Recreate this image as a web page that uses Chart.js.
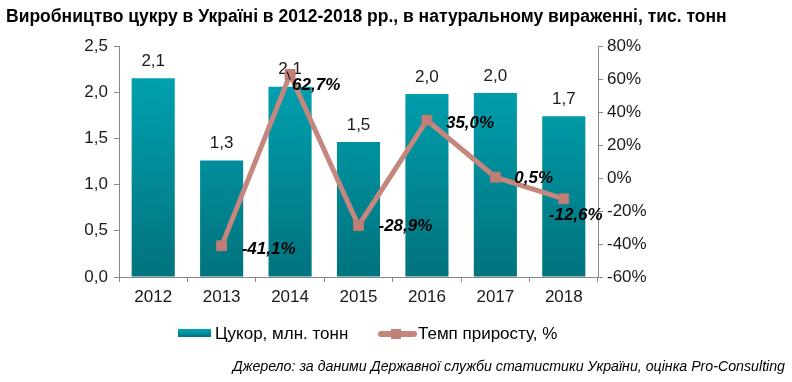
<!DOCTYPE html>
<html><head><meta charset="utf-8">
<script src="https://cdn.jsdelivr.net/npm/chart.js@4"></script>
<style>html,body{margin:0;padding:0;background:#fff;}canvas{display:block}</style>
</head><body>
<canvas id="c" width="792" height="382"></canvas>
<script>
const titleText = "Виробництво цукру в Україні в 2012-2018 рр., в натуральному вираженні, тис. тонн";
const sourceText = "Джерело: за даними Державної служби статистики України, оцінка Pro-Consulting";
const categories = ["2012","2013","2014","2015","2016","2017","2018"];
const sugarValues = [2.15, 1.26, 2.06, 1.46, 1.98, 1.99, 1.74];
const sugarLabels = ["2,1","1,3","2,1","1,5","2,0","2,0","1,7"];
const growthValues = [null, -41.1, 62.7, -28.9, 35.0, 0.5, -12.6];
const growthLabels = ["", "-41,1%", "62,7%", "-28,9%", "35,0%", "0,5%", "-12,6%"];
const seriesNames = ["Цукор, млн. тонн", "Темп приросту, %"];
const leftTicks = [0, 0.5, 1, 1.5, 2, 2.5];
const rightTicks = [-60, -40, -20, 0, 20, 40, 60, 80];

const FONT = "'Liberation Sans', Arial, sans-serif";
const lineColor = '#c5867e';
const markerColor = '#c07f77';

function barGradient(ctx) {
  const ca = ctx.chart.chartArea;
  if (!ca) return '#0096a3';
  const g = ctx.chart.ctx.createLinearGradient(0, ca.top, 0, ca.bottom);
  g.addColorStop(0, '#00a8b8');
  g.addColorStop(1, '#01737d');
  return g;
}

// label offsets (dx, dy, align) for growth labels
const growthLabelPos = [null, [20,3,'left'], [2,11,'left'], [20,1,'left'], [19,3,'left'], [19,1,'left'], [-15,17,'left']];

const extras = {
  id: 'extras',
  afterDatasetDraw(chart, args) {
    if (args.index !== 0) return;
    const ctx = chart.ctx;
    ctx.save();
    const barMeta = chart.getDatasetMeta(0);
    ctx.font = "17px " + FONT;
    ctx.fillStyle = '#1a1a1a';
    ctx.textAlign = 'center';
    ctx.textBaseline = 'middle';
    barMeta.data.forEach((el, i) => {
      ctx.fillText(sugarLabels[i], el.x, el.y - 17);
    });
    ctx.restore();
  },
  afterDatasetsDraw(chart) {
    const ctx = chart.ctx;
    ctx.save();
    ctx.textBaseline = 'middle';
    const lineMeta = chart.getDatasetMeta(1);
    ctx.font = "italic bold 17px " + FONT;
    ctx.fillStyle = '#000';
    lineMeta.data.forEach((el, i) => {
      if (growthValues[i] === null) return;
      const p = growthLabelPos[i];
      ctx.textAlign = p[2];
      ctx.fillText(growthLabels[i], el.x + p[0], el.y + p[1]);
    });
    const e2 = lineMeta.data[2];
    ctx.strokeStyle = '#000'; ctx.lineWidth = 1;
    ctx.beginPath(); ctx.moveTo(e2.x - 3, e2.y - 3); ctx.lineTo(e2.x, e2.y + 5); ctx.stroke();
    ctx.restore();
  },
  afterDraw(chart) {
    const ctx = chart.ctx;
    ctx.save();
    ctx.font = "bold 17.5px " + FONT;
    ctx.fillStyle = '#000';
    ctx.textAlign = 'left';
    ctx.textBaseline = 'middle';
    ctx.fillText(titleText, 6, 17);
    const g = ctx.createLinearGradient(0, 329, 0, 337);
    g.addColorStop(0, '#00a8b8'); g.addColorStop(1, '#01737d');
    ctx.fillStyle = g;
    ctx.fillRect(178, 329, 33, 8);
    ctx.font = "17px " + FONT;
    ctx.fillStyle = '#000';
    ctx.fillText(seriesNames[0], 215, 334);
    ctx.strokeStyle = lineColor; ctx.lineWidth = 6; ctx.lineCap = 'round';
    ctx.beginPath(); ctx.moveTo(381, 334); ctx.lineTo(414, 334); ctx.stroke();
    ctx.fillStyle = markerColor;
    ctx.fillRect(391, 329, 10, 10);
    ctx.fillStyle = '#000';
    ctx.fillText(seriesNames[1], 418, 334);
    ctx.font = "italic 14.2px " + FONT;
    ctx.textAlign = 'right';
    ctx.fillText(sourceText, 785, 367);
    ctx.restore();
  }
};

new Chart(document.getElementById('c'), {
  data: {
    labels: categories,
    datasets: [
      {
        type: 'bar', label: seriesNames[0], data: sugarValues, yAxisID: 'y',
        backgroundColor: barGradient, borderWidth: 0,
        barPercentage: 0.63, categoryPercentage: 1, order: 2
      },
      {
        type: 'line', label: seriesNames[1], data: growthValues, yAxisID: 'y1',
        borderColor: lineColor, borderWidth: 5, pointStyle: 'rect', pointRadius: 7,
        pointBackgroundColor: markerColor, pointBorderColor: '#b87a72', pointBorderWidth: 1,
        tension: 0, spanGaps: false, order: 1
      }
    ]
  },
  plugins: [extras],
  options: {
    responsive: false, animation: false, devicePixelRatio: 1,
    layout: { padding: { top: 46, left: 0, right: 0, bottom: 0 } },
    plugins: { legend: { display: false }, title: { display: false }, tooltip: { enabled: false } },
    scales: {
      x: {
        offset: true,
        grid: { offset: true, drawOnChartArea: false, drawTicks: true, tickLength: 5, color: '#888' },
        border: { color: '#888', width: 1 },
        ticks: { font: { family: FONT, size: 17 }, color: '#1a1a1a', padding: 5 },
        afterFit(s) { s.height = 105; }
      },
      y: {
        position: 'left', min: 0, max: 2.5,
        afterBuildTicks(s) { s.ticks = leftTicks.map(v => ({ value: v })); },
        grid: { drawOnChartArea: false, tickLength: 5, color: '#888' },
        border: { color: '#888', width: 1 },
        ticks: { font: { family: FONT, size: 17 }, color: '#1a1a1a', padding: 6,
          callback: v => v.toFixed(1).replace('.', ',') },
        afterFit(s) { s.width = 119; }
      },
      y1: {
        position: 'right', min: -60, max: 80,
        afterBuildTicks(s) { s.ticks = rightTicks.map(v => ({ value: v })); },
        grid: { drawOnChartArea: false, tickLength: 5, color: '#888' },
        border: { color: '#888', width: 1 },
        ticks: { font: { family: FONT, size: 17 }, color: '#1a1a1a', padding: 4,
          callback: v => v + '%' },
        afterFit(s) { s.width = 194; }
      }
    }
  }
});
</script>
</body></html>
